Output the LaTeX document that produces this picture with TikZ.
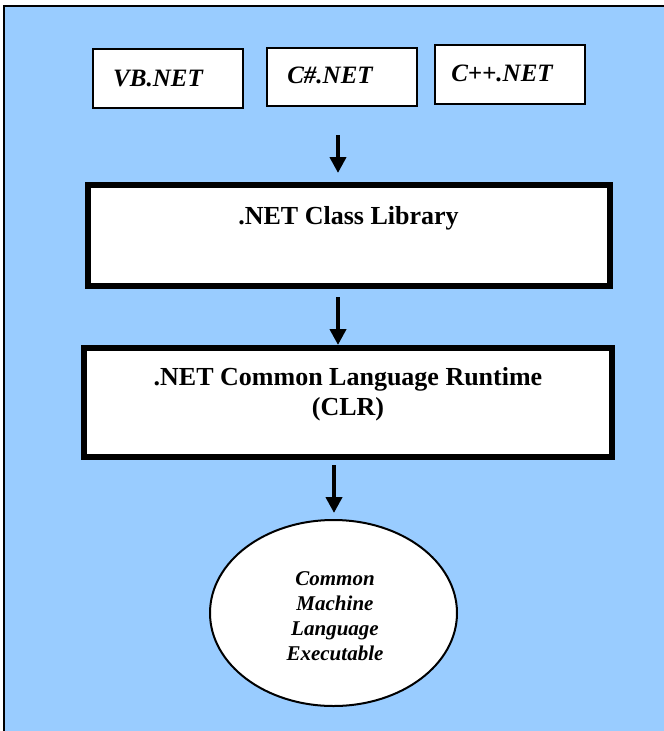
\documentclass[tikz,border=0pt]{standalone}
\usepackage{fontspec}
\setmainfont{Liberation Serif}
\usetikzlibrary{arrows.meta,shapes.geometric}
\definecolor{bgblue}{RGB}{153,204,255}
\tikzset{
  thinbox/.style={draw=black, line width=2pt, fill=white, rectangle, inner sep=0pt, minimum width=150pt},
  thickbox/.style={draw=black, line width=6pt, fill=white, rectangle, inner sep=0pt},
  langtext/.style={anchor=base, inner sep=0pt, font=\fontsize{25pt}{30pt}\selectfont\bfseries\itshape},
  boxtext/.style={inner sep=0pt, align=center, font=\fontsize{26pt}{30pt}\selectfont\bfseries},
  ovaltext/.style={inner sep=0pt, align=center, font=\fontsize{21pt}{25pt}\selectfont\bfseries\itshape},
  flowarrow/.style={draw=black, line width=4pt, -{Triangle[width=16pt,length=16pt]}}
}
\begin{document}
\begin{tikzpicture}[x=1pt,y=-1pt]
\useasboundingbox (0,0) rectangle (664,731);
\draw[line width=2pt, fill=bgblue] (3.5,6) rectangle (690,760);
% language boxes
\node[thinbox, minimum height=59pt] (vb) at (168,78.5) {};
\node[thinbox, minimum height=58pt] (cs) at (342,77) {};
\node[thinbox, minimum height=59pt] (cpp) at (510,74.5) {};
\node[langtext] (vbt) at (158,86) {VB.NET};
\node[langtext] (cst) at (330,83) {C\#.NET};
\node[langtext] (cppt) at (502,81) {C++.NET};
% class library
\node[thickbox, minimum width=522pt, minimum height=101pt] (cls) at (349,235.5) {};
\node[boxtext, anchor=base] (clst) at (348.5,224) {.NET Class Library};
% CLR
\node[thickbox, minimum width=528pt, minimum height=109pt] (clr) at (348,402.5) {};
\node[boxtext, anchor=base] (clrt1) at (348,385) {.NET Common Language Runtime};
\node[boxtext, anchor=base] (clrt2) at (348,415) {(CLR)};
% ellipse
\node[ellipse, draw=black, line width=2pt, fill=white, minimum width=247pt, minimum height=186pt, inner sep=0pt] (exe) at (333.5,613) {};
\node[ovaltext] (exet) at (335,616) {Common\\Machine\\Language\\Executable};
% arrows
\coordinate (a1s) at (338,135);
\coordinate (a1e) at (338,173);
\coordinate (a2s) at (338,297);
\coordinate (a3s) at (334,465);
\coordinate (a3e) at (334,513);
\draw[flowarrow] (a1s) -- (a1e);
\draw[flowarrow] (a2s) -- (a2s |- clr.north);
\draw[flowarrow] (a3s) -- (a3e);
\end{tikzpicture}
\end{document}
